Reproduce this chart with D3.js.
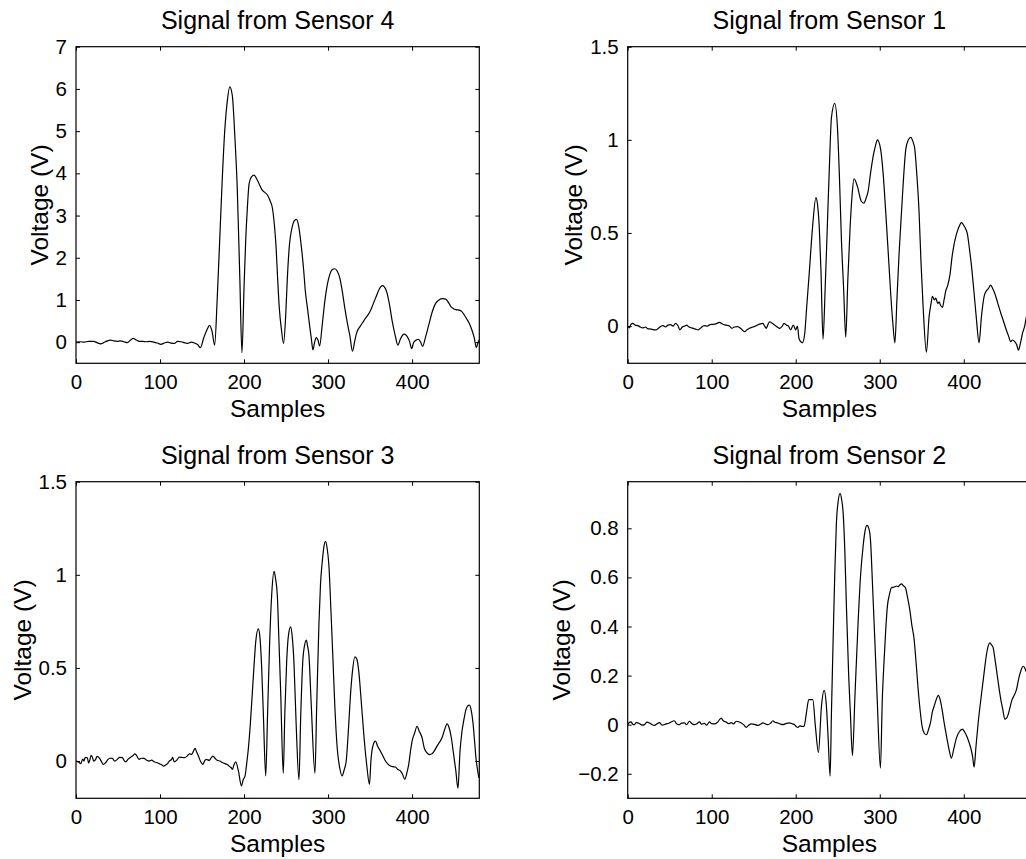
<!DOCTYPE html>
<html><head><meta charset="utf-8">
<script src="https://cdn.jsdelivr.net/npm/d3@7"></script>
<style>html,body{margin:0;padding:0;background:#fff;overflow:hidden}svg{display:block}</style>
</head><body><svg id="chart" width="1026" height="859"></svg>
<script>
// ---------------- data ----------------
const titles = ["Signal from Sensor 4", "Signal from Sensor 1", "Signal from Sensor 3", "Signal from Sensor 2"];
const xLabel = "Samples";
const yLabel = "Voltage (V)";
const sampleTicks = [0, 100, 200, 300, 400];
const sampleRange = [0, 480];

const sensor4Range = [-0.5, 7];
const sensor4Ticks = [0, 1, 2, 3, 4, 5, 6, 7];
const sensor4Samples = [0,5,10,15,21,25,29,35,41,45,49,53,57,61,65,68,72,75,80,83,88,93,97,101,105,109,113,117,121,125,129,133,137,141,145,148,
  152,156,159,162,165,168,171,174,177,180,183,186,189,192,195,197.5,200,202,204,206,209,212,215,218,221,224,228,231,234,236,238,240,242,244.5,247,249.5,251.5,254,257,260,262.5,265,268,271,273,275.5,278,280,282,284,286,288,290,293,296,299,302,305,308,311,314,317,320,323,326,329,332,334,338,341,345,349,352,355,358,361,364.5,367,370,373,376.5,380,383,386,388.5,391,394,397,399.5,402,405,407.5,410,412.5,416,420,424,428,432,436,440,443,446,449,452,456,459,462,465,468,471,474,476.5,478.5,480];
const sensor4Volts = [0,0.01,0,0.02,0.02,-0.01,-0.04,0.01,0.05,0.03,0.02,0.03,0.01,-0.01,0.05,0.09,0.05,0.02,0.02,0.01,0.02,0,-0.02,-0.05,-0.02,0,-0.02,-0.03,0.02,0.01,-0.01,-0.03,0,-0.02,-0.06,-0.13,
  0.1,0.3,0.4,0.25,-0.07,1.0,2.4,3.83,5.0,5.7,6.05,5.85,4.9,3.6,1.5,-0.25,1.3,2.42,3.2,3.75,3.92,3.96,3.87,3.75,3.62,3.56,3.48,3.35,3.15,2.8,2.3,1.5,0.8,0.3,-0.03,0.6,1.5,2.3,2.7,2.88,2.91,2.75,2.3,1.7,1.2,0.8,0.4,0.1,-0.18,0.0,0.11,0.05,-0.09,0.4,0.95,1.35,1.6,1.72,1.74,1.68,1.52,1.2,0.8,0.45,0.15,-0.21,0.05,0.22,0.37,0.46,0.58,0.69,0.82,0.97,1.12,1.26,1.34,1.31,1.18,0.9,0.48,0.15,-0.07,0.07,0.16,0.19,0.14,0.02,-0.15,0.0,0.05,0.07,0.01,-0.1,0.12,0.42,0.72,0.92,1.0,1.03,1.02,0.95,0.85,0.8,0.77,0.76,0.73,0.65,0.55,0.45,0.3,0.1,-0.13,0.0,0.05];

const sensor1Range = [-0.2, 1.5];
const sensor1Ticks = [0, 0.5, 1, 1.5];
const sensor1Samples = [0,2,4,6,9,12,15,18,21,24,28,31,34,37,40,42,45,48,51,54,57,60,62,65,68,70,73,76,80,84,87,91,95,98,101,105,109,113,117,121,124,127,131,135,139,142,145,149,153,157,161,163,165,167,169,172,175,178,181,184,186,189,191,194,197,200,202,
  204,208,210.7,213,216,220,224,226,228,230,232.5,235,237.7,240,242.5,246.4,249.6,252,254.4,257,259.5,262,264.7,267,269.4,273.4,278,281,284,286,289,292.5,295,297.2,301,304,307,310,313,315.5,318,320.5,323,327,331,334,337,339.5,341.7,344,346.8,349,351.6,355.5,358.7,361,362.7,365,366.7,369,370.6,372.5,374.6,376.5,378.6,381,383.7,386,388.5,390.5,392.4,395,397.2,400,402.4,404.5,406.3,409,412.3,415,418.2,421,424.2,427,429,432.1,434.5,436.9,440,444,447,450,453,455.9,458,460.7,463,465.1,467.5,469.8,472.5,475,478,480];
const sensor1Volts = [0,-0.01,0.01,0.014,0.005,0.002,-0.005,-0.01,-0.005,-0.015,-0.016,-0.02,-0.02,-0.01,0,0.002,-0.005,0.005,0.008,0,0.014,0,-0.02,-0.005,0,0.005,-0.005,-0.01,-0.015,-0.02,-0.01,0.002,0,0.008,0.009,0.012,0.02,0.01,0.005,0,-0.012,-0.005,-0.003,-0.015,-0.03,-0.02,-0.012,-0.005,0.002,0.01,0.014,0,-0.012,0.01,0.023,0.015,0.005,-0.005,-0.012,0,0.014,0.005,0.002,-0.02,0.005,-0.02,0,
  -0.07,-0.09,-0.04,0.1,0.28,0.53,0.69,0.65,0.53,0.3,-0.07,0.2,0.55,0.85,1.12,1.196,1.07,0.8,0.46,0.2,-0.06,0.25,0.53,0.7,0.79,0.75,0.67,0.66,0.69,0.72,0.82,0.92,0.97,1.0,0.95,0.82,0.62,0.4,0.175,0.02,-0.09,0.15,0.39,0.7,0.95,1.0,1.013,0.99,0.95,0.82,0.61,0.35,0.104,-0.14,0.05,0.12,0.16,0.14,0.15,0.12,0.13,0.11,0.1,0.14,0.19,0.22,0.28,0.37,0.44,0.48,0.51,0.54,0.555,0.54,0.52,0.49,0.43,0.33,0.175,0.04,-0.09,0.05,0.16,0.19,0.2,0.22,0.2,0.175,0.13,0.07,0.03,-0.013,-0.05,-0.084,-0.075,-0.084,-0.1,-0.13,-0.09,-0.04,0,0.06,0.09,0.1];

const sensor3Range = [-0.2, 1.5];
const sensor3Ticks = [0, 0.5, 1, 1.5];
const sensor3Samples = [0,3,5.6,8,9.5,11,13.5,15,16.7,18,19.5,21,23.4,25,27.4,30,32.6,35,37.3,40,43.3,46,49.2,52,55.2,57,59.2,62,65.1,68,69.9,72,75,78,81,84,87,90,93,96,99,102,104.2,107,109,111,113.7,115,117,120,123,126,129,132,135,137.7,140,141.7,143.5,145.7,148,150.9,153,154.8,158.8,160.5,162.8,165,168,171,174.8,178,180.8,182.2,184.8,186.2,188,190.1,193.3,196.9,
  199,201.2,203,205.2,207.5,209.9,212,213.9,217,219,221,223,225.8,228,230.5,233,235.7,237.5,239.6,241.5,243.6,246.7,248.5,250.7,253,255.5,257.5,259.4,262,265.4,267.5,270.1,272,274.1,275.5,277.2,280,284.4,286.5,289.1,291,293.1,295,297,299,301,303.5,305.8,308,310.9,314,316.8,319,321.6,324,326.7,329,331.9,334,336.6,339.5,342.6,346,349.3,351,353.3,356.4,359,362.4,365,368.3,371,374.3,377,380.2,383,386.1,388.5,391.3,394,396,398,400,403,405.9,408.5,411.9,414.5,417.8,420.5,423.8,426.5,429.7,432.5,435.6,438.5,441.6,444,446.7,449,452,454.6,457,459.4,462,464.1,466,468.1,470.5,472.5,474.5,476,478,479.5];
const sensor3Volts = [0,-0.005,-0.014,0.01,0,0.02,0.018,-0.01,0.009,0.03,0.021,0,0.009,0.025,0.018,0,-0.018,-0.01,0.004,0.015,0.014,0,0.009,0.02,0.018,0.005,-0.004,0.01,0.021,0.03,0.039,0.03,0.009,0.015,0.014,0.005,0,0.005,-0.004,-0.008,-0.014,-0.02,-0.027,-0.02,-0.014,0,0.009,0.02,-0.004,0.005,0.021,0.02,0.018,0.025,0.039,0.036,0.055,0.068,0.05,0.027,0,-0.018,0,0.009,0.004,0.015,0.027,0.018,0.004,0,-0.009,-0.015,-0.021,-0.027,-0.036,-0.045,-0.02,-0.004,-0.053,-0.133,
  -0.1,-0.08,-0.02,0.07,0.2,0.37,0.52,0.64,0.71,0.66,0.5,0.25,-0.08,0.25,0.64,0.9,1.018,0.98,0.89,0.65,0.37,-0.066,0.25,0.53,0.68,0.72,0.66,0.53,0.2,-0.1,0.25,0.55,0.62,0.65,0.62,0.57,0.3,-0.066,0.3,0.73,0.95,1.07,1.15,1.18,1.14,1.05,0.8,0.55,0.3,0.07,-0.04,-0.08,-0.05,0,0.15,0.356,0.48,0.56,0.55,0.48,0.32,0.14,-0.02,-0.125,0,0.08,0.107,0.08,0.053,0.03,0,-0.015,-0.027,-0.03,-0.032,-0.045,-0.053,-0.07,-0.098,-0.06,-0.018,0.05,0.107,0.15,0.187,0.16,0.125,0.07,0.044,0.035,0.039,0.055,0.08,0.1,0.125,0.165,0.2,0.18,0.125,0.05,-0.05,-0.146,0.05,0.16,0.23,0.276,0.295,0.3,0.27,0.205,0.1,0.018,-0.05,-0.09];

const sensor2Range = [-0.3, 0.99];
const sensor2Ticks = [-0.2, 0, 0.2, 0.4, 0.6, 0.8];
const sensor2Samples = [0,1.2,4,6,7.9,10,13.9,17,19.9,23,25.8,29,31.8,35,37.7,41,45.7,49,51.6,55.6,58,61.5,64,67.5,70,73.5,76,79.4,82,85.4,88,91.3,94,97.3,100,103.3,107,111.2,114,117.2,120,123.1,126,129.1,132,135.1,138,141,144,147,151,154.9,158,160.9,164,166.9,170,172.8,175,178.8,182,184.7,188,192.7,196,198.6,200.6,202.6,205,207,209.9,
  212.7,215.5,220.3,223.4,227,230.6,233.8,236.5,238.5,240.9,242.5,244.5,246.5,248.4,250.5,252.8,254.5,256.4,258.5,260.3,263,265,267.5,270.5,274.2,277,280.2,282.5,284.9,287,288.9,291.5,294.1,297,300.8,303,305.2,307,309.1,311.5,313.9,316,317.9,320,321.8,324,325.8,328,330.6,333,335.7,338,340.9,343.3,345.7,348,350.4,353,355.6,358,360.3,362.5,364.7,367,369.5,372,374.2,377,380.2,383,385.3,388,391.3,394.5,398.4,401,404.4,408.3,410.5,412.3,414.5,417.1,419.5,422.2,424.5,427,429,431,433,435,437,438.9,441.5,444.1,446.5,448.8,450.5,452.8,455,457.5,460,462.7,465.5,468,470.6,472.5,474.2,477,480];
const sensor2Volts = [0,0.007,0.011,0.002,0,0.008,0.005,-0.002,0,0.01,0.007,0,-0.003,0.004,0.008,-0.002,0.003,0.006,0.011,0.016,0.004,0,0.006,0.007,0,0.014,0.005,0,0.003,0.011,0.002,0.005,-0.002,0.011,0.004,0.003,0.01,0.027,0.015,0.011,0.004,0.008,0.003,0.014,0.012,0.007,0,-0.011,-0.002,0.003,0.001,-0.003,0.002,0.007,0.003,0,0.006,0.016,0.01,0.007,0.002,0,0.004,0.007,0.003,0,-0.008,-0.011,-0.005,-0.007,-0.007,
  0.048,0.102,0.102,-0.007,-0.113,0.075,0.14,0.075,-0.05,-0.21,0.05,0.347,0.62,0.823,0.91,0.943,0.92,0.864,0.7,0.483,0.2,0.05,-0.126,0.12,0.415,0.6,0.728,0.79,0.812,0.8,0.755,0.56,0.347,0.1,-0.177,0.1,0.265,0.38,0.483,0.53,0.558,0.56,0.562,0.565,0.562,0.57,0.574,0.566,0.558,0.52,0.469,0.41,0.347,0.25,0.143,0.06,-0.007,-0.035,-0.041,-0.02,0.007,0.05,0.075,0.1,0.119,0.1,0.061,0,-0.061,-0.11,-0.136,-0.1,-0.054,-0.03,-0.018,-0.03,-0.054,-0.095,-0.13,-0.173,-0.09,0.007,0.08,0.156,0.22,0.286,0.32,0.333,0.325,0.313,0.27,0.224,0.16,0.102,0.06,0.023,0.025,0.041,0.07,0.102,0.12,0.143,0.19,0.22,0.238,0.232,0.218,0.2,0.19];

// ---------------- layout ----------------
const svg = d3.select("#chart");
const axW = 403.3, axH = 316.6;
const font = "'Liberation Sans', Arial, Helvetica, sans-serif";
const panels = [
  {title: titles[0], samples: sensor4Samples, volts: sensor4Volts, range: sensor4Range, ticks: sensor4Ticks, left: 76, top: 46.7},
  {title: titles[1], samples: sensor1Samples, volts: sensor1Volts, range: sensor1Range, ticks: sensor1Ticks, left: 627.7, top: 46.7},
  {title: titles[2], samples: sensor3Samples, volts: sensor3Volts, range: sensor3Range, ticks: sensor3Ticks, left: 76, top: 481.7},
  {title: titles[3], samples: sensor2Samples, volts: sensor2Volts, range: sensor2Range, ticks: sensor2Ticks, left: 627.7, top: 481.7}
];

panels.forEach((p, i) => {
  const g = svg.append("g").attr("transform", `translate(${p.left},${p.top})`);
  const x = d3.scaleLinear().domain(sampleRange).range([0, axW]);
  const y = d3.scaleLinear().domain(p.range).range([axH, 0]);
  const fmt = d3.format("");

  const clipId = "clip" + i;
  g.append("clipPath").attr("id", clipId).append("rect").attr("width", axW).attr("height", axH);

  const styleAxis = sel => {
    sel.select(".domain").remove();
    sel.selectAll(".tick line").attr("stroke", "#000").attr("stroke-width", 1);
    sel.selectAll("text").attr("fill", "#000").style("font-family", font).style("font-size", "20.5px");
  };

  g.append("g").attr("transform", `translate(0,${axH})`)
    .call(d3.axisBottom(x).tickValues(sampleTicks).tickSize(-4).tickPadding(11).tickFormat(fmt)).call(styleAxis);
  g.append("g")
    .call(d3.axisTop(x).tickValues(sampleTicks).tickSize(-4).tickFormat("")).call(styleAxis);
  const yAx = g.append("g")
    .call(d3.axisLeft(y).tickValues(p.ticks).tickSize(-4).tickPadding(9).tickFormat(fmt)).call(styleAxis);
  g.append("g").attr("transform", `translate(${axW},0)`)
    .call(d3.axisRight(y).tickValues(p.ticks).tickSize(-4).tickFormat("")).call(styleAxis);

  g.append("rect").attr("width", axW).attr("height", axH)
    .attr("fill", "none").attr("stroke", "#000").attr("stroke-width", 1.2);

  const pts = p.samples.map((s, k) => [s, p.volts[k]]);
  g.append("path").datum(pts)
    .attr("clip-path", `url(#${clipId})`)
    .attr("fill", "none").attr("stroke", "#000").attr("stroke-width", 1.2)
    .attr("stroke-linejoin", "round")
    .attr("d", d3.line().x(d => x(d[0])).y(d => y(d[1])).curve(d3.curveMonotoneX));

  g.append("text").attr("x", axW / 2).attr("y", -17.5).attr("text-anchor", "middle")
    .style("font-family", font).style("font-size", "25px").text(p.title);

  g.append("text").attr("x", axW / 2).attr("y", axH + 54).attr("text-anchor", "middle")
    .style("font-family", font).style("font-size", "24.5px").text(xLabel);

  let minX = 0;
  yAx.selectAll("text").each(function () { const b = this.getBBox(); minX = Math.min(minX, b.x); });
  const ly = axH / 2;
  g.append("text").attr("transform", `translate(${minX - 8},${ly}) rotate(-90)`).attr("text-anchor", "middle")
    .style("font-family", font).style("font-size", "24.5px").text(yLabel);
});
</script></body></html>
